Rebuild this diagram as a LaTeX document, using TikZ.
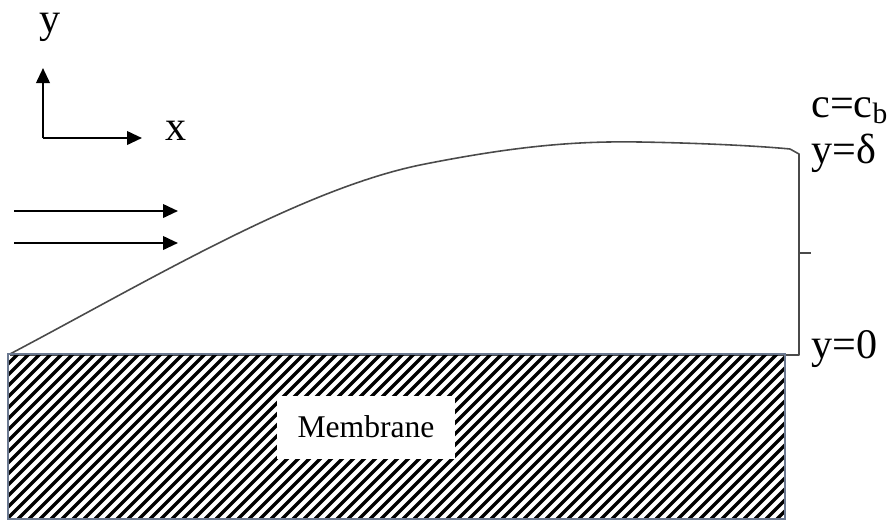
\documentclass[tikz,border=0pt]{standalone}
\usepackage{fontspec}
\setmainfont{Liberation Serif}
\usepackage{tikz}
\usetikzlibrary{arrows.meta}

\definecolor{edgegray}{HTML}{4A4A4A}
\definecolor{membblue}{HTML}{6A7890}

\begin{document}
\begin{tikzpicture}[x=0.02cm, y=-0.02cm, font=\fontsize{24}{26}\selectfont,
    arr/.style={-{Triangle[length=0.3cm,width=0.27cm]}, line width=1.3pt},
    lbl/.style={inner sep=0pt, anchor=base west}]
  \useasboundingbox (0,0) rectangle (888,522);

  % axes
  \coordinate (o) at (43,138);
  \coordinate (ytip) at (43,68);
  \coordinate (xtip) at (142,138);
  \draw[arr] (o) -- (ytip);
  \draw[arr] (o) -- (xtip);
  \node[lbl] (ylab) at (39,32) {y};
  \node[lbl] (xlab) at (165,140) {x};

  % incoming flow
  \coordinate (f1a) at (14,211);
  \coordinate (f1b) at (178,211);
  \coordinate (f2a) at (14,243);
  \coordinate (f2b) at (178,243);
  \draw[arr] (f1a) -- (f1b);
  \draw[arr] (f2a) -- (f2b);

  % boundary layer
  \draw[edgegray, line width=0.9pt, line join=round]
    (10,354) .. controls (150,280) and (300,190) .. (420,165)
    .. controls (520,145) and (580,141) .. (640,142)
    .. controls (700,143) and (760,146) .. (790,149)
    -- (799,154) -- (799,355) -- (10,355);
  \coordinate (tk) at (799,253);
  \draw[edgegray, line width=0.9pt] (tk) -- ++(12,0);

  \node[lbl] (cb) at (811,117) {c=c\textsubscript{b}};
  \node[lbl] (yd) at (811,163) {y=δ};
  \node[lbl] (y0) at (811,358) {y=0};

  % membrane
  \begin{scope}
    \clip (8,354) rectangle (785,519);
    \foreach \k in {-180,-169,...,790}
      \draw[line width=1.9pt] (\k,519) -- ++(165,-165);
  \end{scope}
  \draw[membblue, line width=0.7pt] (8,354) rectangle (785,519);
  \node[fill=white, minimum width=3.56cm, minimum height=1.26cm,
        font=\fontsize{18}{20}\selectfont] (memb) at (366,427) {Membrane};
\end{tikzpicture}
\end{document}
